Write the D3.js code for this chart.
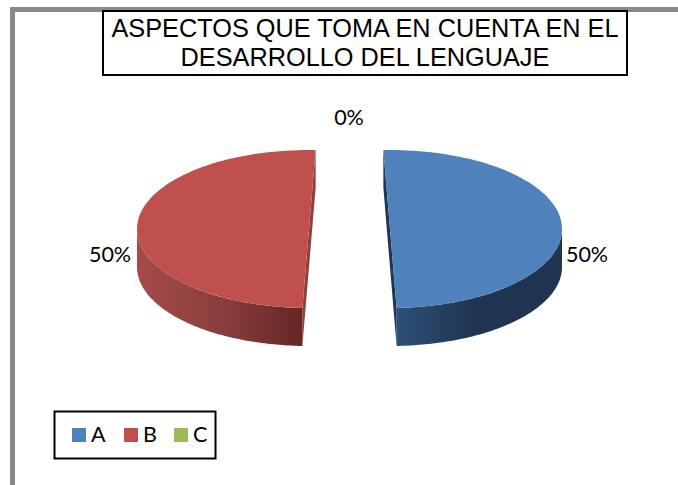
<!DOCTYPE html>
<html><head><meta charset="utf-8">
<script src="https://cdn.jsdelivr.net/npm/d3@7/dist/d3.min.js"></script>
<style>html,body{margin:0;padding:0;background:#fff}svg{display:block}</style>
</head><body><svg id="c" width="678" height="485"></svg>
<script>
const categories = ["A", "B", "C"];
const values = [50, 50, 0];
const labels = ["50%", "50%", "0%"];
const colors = ["#4f81bd", "#c0504d", "#9bbb59"];
const titleLines = ["ASPECTOS QUE TOMA EN CUENTA EN EL", "DESARROLLO DEL LENGUAJE"];

const svg = d3.select("#c");
const W = 678, H = 485;

// frame
svg.append("path").attr("d", d3.line()([[12.5, H], [12.5, 9.5], [W, 9.5]]))
  .attr("fill", "none").attr("stroke", "#898989").attr("stroke-width", 5);

// title box
svg.append("rect").attr("x", 103).attr("y", 11).attr("width", 524).attr("height", 64)
  .attr("fill", "#fff").attr("stroke", "#000").attr("stroke-width", 2);
svg.append("g").selectAll("text").data(titleLines).join("text")
  .attr("x", 365).attr("y", (d, i) => 37 + i * 29)
  .attr("text-anchor", "middle").attr("font-family", "Liberation Sans")
  .attr("font-size", 25.3).attr("fill", "#000").text(d => d);

// pie: 3D-view tilt makes each exploded slice's cut edge lean outwards
const tilt = 2.2 * Math.PI / 180;
const pie = d3.pie().value(d => d).sort(null);
const arcs = pie(values);
const sliceTurn = [-tilt, tilt, 0];
const rx = 172, ry = 79, depth = 38;
const centers = [[390, 229], [309, 229]];
const gradStops = [
  [[0, "#2f5079"], [0.45, "#1f3552"], [1, "#1e3450"]],
  [[0, "#a44b48"], [0.5, "#8a3f3d"], [1, "#642726"]]
];
const faceCol = ["#1f3552", "#8f3f3c"];

const defs = svg.append("defs");
function project(c, th, dz) { return [c[0] + rx * Math.sin(th), c[1] - ry * Math.cos(th) + dz]; }
function arcPts(c, a, b, dz) {
  const n = 90;
  return d3.range(n + 1).map(i => project(c, a + (b - a) * i / n, dz));
}
const line = d3.line();

arcs.forEach((d, i) => {
  if (d.value === 0) return;
  const c = centers[i];
  const g = svg.append("g");
  const a = d.startAngle + sliceTurn[i], b = d.endAngle + sliceTurn[i];
  const lo = Math.max(a, Math.PI / 2), hi = Math.min(b, 3 * Math.PI / 2);
  const top = arcPts(c, lo, hi, 0), bot = arcPts(c, lo, hi, depth).reverse();
  const id = "side" + i;
  const xs = top.map(p => p[0]);
  const grad = defs.append("linearGradient").attr("id", id).attr("gradientUnits", "userSpaceOnUse")
    .attr("x1", d3.min(xs)).attr("x2", d3.max(xs)).attr("y1", 0).attr("y2", 0);
  gradStops[i].forEach(s => grad.append("stop").attr("offset", s[0]).attr("stop-color", s[1]));
  // cut face
  const pTop = i === 0 ? project(c, a, 0) : project(c, b, 0);
  const pBot = i === 0 ? project(c, b, 0) : project(c, a, 0);
  g.append("path").attr("d", line([pBot, pTop, [pTop[0], pTop[1] + depth], [pBot[0], pBot[1] + depth]]) + "Z").attr("fill", faceCol[i]);
  g.append("path").attr("d", line(top.concat(bot)) + "Z").attr("fill", "url(#" + id + ")");
  g.append("path").attr("d", line(arcPts(c, a, b, 0)) + "Z").attr("fill", colors[i]);
});

// labels
const labelPos = [[587, 262], [110, 262], [349, 125]];
svg.append("g").selectAll("text").data(labels).join("text")
  .attr("x", (d, i) => labelPos[i][0]).attr("y", (d, i) => labelPos[i][1])
  .attr("text-anchor", "middle").attr("font-family", "Lato").attr("font-size", 21.5).attr("fill", "#000").text(d => d);

// legend
svg.append("rect").attr("x", 54.5).attr("y", 411.5).attr("width", 161).attr("height", 47)
  .attr("fill", "#fff").attr("stroke", "#000").attr("stroke-width", 2);
const sqX = [72, 124, 174];
const lg = svg.append("g").selectAll("g").data(categories).join("g");
lg.append("rect").attr("x", (d, i) => sqX[i]).attr("y", 428).attr("width", 14).attr("height", 14)
  .attr("fill", (d, i) => colors[i]);
lg.append("text").attr("x", (d, i) => sqX[i] + 19).attr("y", 442)
  .attr("font-family", "Lato").attr("font-size", 21.5).attr("fill", "#000").text(d => d);
</script></body></html>
